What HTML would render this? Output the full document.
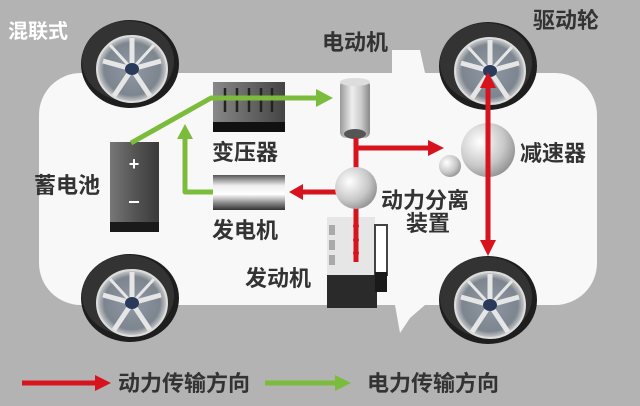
<!DOCTYPE html>
<html><head><meta charset="utf-8"><style>
html,body{margin:0;padding:0;background:#b3b3b3}
svg{display:block}
text{font-family:"Liberation Sans","Noto Sans CJK SC",sans-serif;font-weight:bold;fill:#333}
</style></head><body>
<svg width="640" height="406" viewBox="0 0 640 406" xmlns="http://www.w3.org/2000/svg">
<defs>
<radialGradient id="sph" cx="0.35" cy="0.35" r="0.75"><stop offset="0" stop-color="#ffffff"/><stop offset="0.6" stop-color="#c8c8c8"/><stop offset="1" stop-color="#8a8a8a"/></radialGradient>
<linearGradient id="cylH" x1="0" y1="0" x2="0" y2="1"><stop offset="0" stop-color="#555"/><stop offset="0.3" stop-color="#eee"/><stop offset="0.55" stop-color="#fff"/><stop offset="0.8" stop-color="#888"/><stop offset="1" stop-color="#333"/></linearGradient>
<linearGradient id="cylV" x1="0" y1="0" x2="1" y2="0"><stop offset="0" stop-color="#999"/><stop offset="0.4" stop-color="#eee"/><stop offset="0.7" stop-color="#ccc"/><stop offset="1" stop-color="#888"/></linearGradient>
<linearGradient id="bat" x1="0" y1="0" x2="1" y2="0"><stop offset="0" stop-color="#777"/><stop offset="0.5" stop-color="#555"/><stop offset="1" stop-color="#3a3a3a"/></linearGradient>
<linearGradient id="trf" x1="0" y1="0" x2="1" y2="0"><stop offset="0" stop-color="#888"/><stop offset="1" stop-color="#444"/></linearGradient>
<radialGradient id="rim" cx="0.5" cy="0.5" r="0.5"><stop offset="0" stop-color="#8f98a4"/><stop offset="0.8" stop-color="#7d858f"/><stop offset="1" stop-color="#d0d0d0"/></radialGradient>
<g id="wheel">
<ellipse cx="0" cy="0" rx="49" ry="44" fill="#1e1e1e"/>
<ellipse cx="-2" cy="-3" rx="46" ry="40" fill="#333"/>
<ellipse cx="2" cy="5" rx="35" ry="33" fill="url(#rim)" stroke="#ddd" stroke-width="2"/>
<g stroke="#e6e6e6" stroke-width="5" fill="none">
<line x1="2" y1="5" x2="2" y2="-26"/><line x1="2" y1="5" x2="31" y2="-3"/><line x1="2" y1="5" x2="20" y2="32"/><line x1="2" y1="5" x2="-16" y2="32"/><line x1="2" y1="5" x2="-27" y2="-3"/>
<line x1="2" y1="5" x2="24" y2="-19" stroke-width="3"/><line x1="2" y1="5" x2="-20" y2="-19" stroke-width="3"/>
</g>
<ellipse cx="2" cy="5" rx="7" ry="6" fill="#2a3a5a"/>
</g>
</defs>
<rect width="640" height="406" fill="#b3b3b3"/>
<rect x="39" y="73" width="558" height="232" rx="42" fill="#f8f8f8"/>
<polygon points="392,50 420,50 425,73 392,73" fill="#f8f8f8"/>
<polygon points="395,305 425,305 410,318 400,333" fill="#f8f8f8"/>
<use href="#wheel" x="130" y="64"/>
<use href="#wheel" x="488" y="66"/>
<use href="#wheel" x="130" y="298"/>
<use href="#wheel" x="488" y="300"/>
<rect x="110" y="142" width="49" height="90" fill="url(#bat)"/>
<rect x="110" y="222" width="49" height="10" fill="#1a1a1a"/>
<text x="134" y="170" font-size="18" text-anchor="middle" style="fill:#fff">+</text>
<rect x="129" y="201" width="10" height="2" fill="#fff"/>
<rect x="213" y="82" width="72" height="50" fill="url(#trf)"/>
<rect x="213" y="122" width="72" height="10" fill="#111"/>
<g stroke="#222" stroke-width="2.5"><line x1="225" y1="88" x2="225" y2="112"/><line x1="237" y1="88" x2="237" y2="112"/><line x1="249" y1="88" x2="249" y2="112"/><line x1="261" y1="88" x2="261" y2="112"/><line x1="272" y1="88" x2="272" y2="112"/></g>
<rect x="213" y="175" width="72" height="35" fill="url(#cylH)"/>
<rect x="340" y="80" width="30" height="58" rx="6" fill="url(#cylV)"/>
<ellipse cx="355" cy="82" rx="15" ry="4" fill="#ddd"/>
<ellipse cx="355" cy="134" rx="11" ry="5" fill="#555"/>
<rect x="327" y="217" width="48" height="58" fill="#e6e6e6"/>
<rect x="375" y="225" width="12" height="50" fill="#fff" stroke="#444" stroke-width="2"/>
<rect x="327" y="275" width="50" height="33" fill="#2a2a2a"/>
<rect x="375" y="272" width="12" height="20" fill="#1a1a1a"/>
<g fill="#aaa"><rect x="329" y="225" width="6" height="10"/><rect x="329" y="240" width="6" height="10"/><rect x="329" y="255" width="6" height="10"/></g>
<circle cx="488" cy="150" r="27" fill="url(#sph)"/>
<circle cx="450" cy="166" r="11" fill="url(#sph)"/>
<g stroke="#d7141e" stroke-width="5" fill="none">
<line x1="356" y1="138" x2="356" y2="262"/>
<line x1="356" y1="148" x2="430" y2="148"/>
<line x1="345" y1="192" x2="300" y2="192"/>
<line x1="488" y1="150" x2="488" y2="86"/>
<line x1="488" y1="150" x2="488" y2="240"/>
<line x1="22" y1="383" x2="96" y2="383"/>
</g>
<g fill="#d7141e">
<polygon points="428,140 444,148 428,156"/>
<polygon points="303,184 289,192 303,200"/>
<polygon points="480,88 488,72 496,88"/>
<polygon points="480,240 488,256 496,240"/>
<polygon points="95,375 111,383 95,391"/>
<circle cx="356" cy="226" r="3"/><circle cx="356" cy="240" r="3"/><circle cx="356" cy="253" r="3"/>
</g>
<circle cx="356" cy="188" r="21" fill="url(#sph)"/>
<g stroke="#7cbc3c" stroke-width="5" fill="none" stroke-linejoin="round">
<polyline points="131,143 211,98 318,98"/>
<polyline points="213,192 185,192 185,137"/>
<line x1="265" y1="383" x2="336" y2="383"/>
</g>
<g fill="#7cbc3c">
<polygon points="316,89 333,98 316,107"/>
<polygon points="177,139 185,124 193,139"/>
<polygon points="335,375 351,383 335,391"/>
</g>
<text x="8" y="38" font-size="20" style="fill:#fff">混联式</text>
<text x="322" y="50" font-size="22">电动机</text>
<text x="533" y="28" font-size="22">驱动轮</text>
<text x="34" y="193" font-size="22">蓄电池</text>
<text x="212" y="160" font-size="22">变压器</text>
<text x="212" y="238" font-size="22">发电机</text>
<text x="381" y="208" font-size="22">动力分离</text>
<text x="406" y="231" font-size="22">装置</text>
<text x="520" y="161" font-size="22">减速器</text>
<text x="245" y="286" font-size="22">发动机</text>
<text x="118" y="391" font-size="22">动力传输方向</text>
<text x="367" y="391" font-size="22">电力传输方向</text>
</svg>
</body></html>
